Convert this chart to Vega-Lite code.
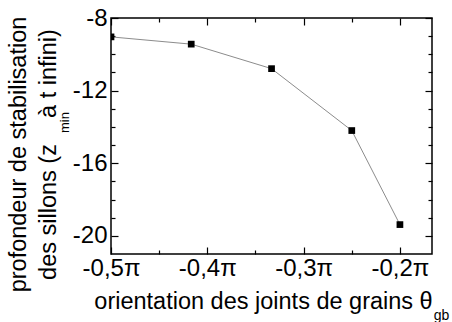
{
  "$schema": "https://vega.github.io/schema/vega-lite/v6.json",
  "width": 321,
  "height": 236,
  "autosize": {"type": "none"},
  "padding": {"left": 111, "top": 18, "right": 20, "bottom": 68},
  "background": "white",
  "config": {
    "view": {"stroke": "black", "strokeWidth": 1.5},
    "font": "Liberation Sans",
    "axis": {
      "domain": false,
      "grid": false,
      "labelFlush": false,
      "tickColor": "black",
      "tickWidth": 1.2,
      "labelColor": "black",
      "titleColor": "black",
      "labelFont": "Liberation Sans",
      "titleFont": "Liberation Sans",
      "labelFontSize": 24,
      "titleFontSize": 23.5,
      "titleFontWeight": "normal"
    }
  },
  "data": {
    "values": [
      {"theta": -0.5, "z": -9.04},
      {"theta": -0.4167, "z": -9.44},
      {"theta": -0.3333, "z": -10.79},
      {"theta": -0.25, "z": -14.2},
      {"theta": -0.2, "z": -19.38}
    ]
  },
  "resolve": {"axis": {"x": "independent", "y": "independent"}},
  "layer": [
    {
      "mark": {"type": "line", "color": "#8c8c8c", "strokeWidth": 1, "clip": true},
      "encoding": {
        "x": {
          "field": "theta", "type": "quantitative",
          "scale": {"domain": [-0.5, -0.1667], "nice": false, "zero": false},
          "axis": {
            "orient": "bottom", "values": [-0.5, -0.4, -0.3, -0.2],
            "tickSize": -7, "labelPadding": 9,
            "labelExpr": "'-0,' + round(abs(datum.value)*10) + 'π'",
            "title": "orientation des joints de grains θ",
            "titleX": 152, "titleY": 54, "titleBaseline": "alphabetic", "titleAlign": "center"
          }
        },
        "y": {
          "field": "z", "type": "quantitative",
          "scale": {"domain": [-21, -8], "nice": false, "zero": false},
          "axis": {
            "orient": "left", "values": [-8, -12, -16, -20],
            "tickSize": -7, "labelPadding": 11,
            "labelExpr": "'-' + abs(datum.value)",
            "title": ["profondeur de stabilisation", "des sillons (z\u00a0\u00a0\u00a0\u00a0à t infini)"],
            "titleAngle": 270, "titleX": -86, "titleY": 136,
            "titleBaseline": "alphabetic", "titleAlign": "center", "titleLineHeight": 30
          }
        }
      }
    },
    {
      "mark": {"type": "square", "color": "black", "opacity": 1, "size": 45, "clip": true},
      "encoding": {
        "x": {
          "field": "theta", "type": "quantitative",
          "scale": {"domain": [-0.5, -0.1667], "nice": false, "zero": false},
          "axis": {
            "orient": "bottom", "values": [-0.45, -0.35, -0.25],
            "tickSize": -4, "labels": false,
            "title": "gb", "titleFontSize": 14,
            "titleX": 330, "titleY": 65, "titleBaseline": "alphabetic", "titleAlign": "center"
          }
        },
        "y": {
          "field": "z", "type": "quantitative",
          "scale": {"domain": [-21, -8], "nice": false, "zero": false},
          "axis": {
            "orient": "left", "values": [-9, -10, -11, -13, -14, -15, -17, -18, -19],
            "tickSize": -4, "labels": false,
            "title": "min", "titleFontSize": 13, "titleAngle": 270,
            "titleX": -47, "titleY": 104, "titleBaseline": "middle", "titleAlign": "center"
          }
        }
      }
    },
    {
      "mark": {"type": "point", "opacity": 0},
      "encoding": {
        "x": {
          "field": "theta", "type": "quantitative",
          "scale": {"domain": [-0.5, -0.1667], "nice": false, "zero": false},
          "axis": {"orient": "top", "values": [-0.5, -0.4, -0.3, -0.2], "tickSize": -7, "labels": false, "title": null}
        },
        "y": {
          "field": "z", "type": "quantitative",
          "scale": {"domain": [-21, -8], "nice": false, "zero": false},
          "axis": {"orient": "right", "values": [-8, -12, -16, -20], "tickSize": -7, "labels": false, "title": null}
        }
      }
    },
    {
      "mark": {"type": "point", "opacity": 0},
      "encoding": {
        "x": {
          "field": "theta", "type": "quantitative",
          "scale": {"domain": [-0.5, -0.1667], "nice": false, "zero": false},
          "axis": {"orient": "top", "values": [-0.45, -0.35, -0.25], "tickSize": -4, "labels": false, "title": null}
        },
        "y": {
          "field": "z", "type": "quantitative",
          "scale": {"domain": [-21, -8], "nice": false, "zero": false},
          "axis": {"orient": "right", "values": [-9, -10, -11, -13, -14, -15, -17, -18, -19], "tickSize": -4, "labels": false, "title": null}
        }
      }
    }
  ]
}
